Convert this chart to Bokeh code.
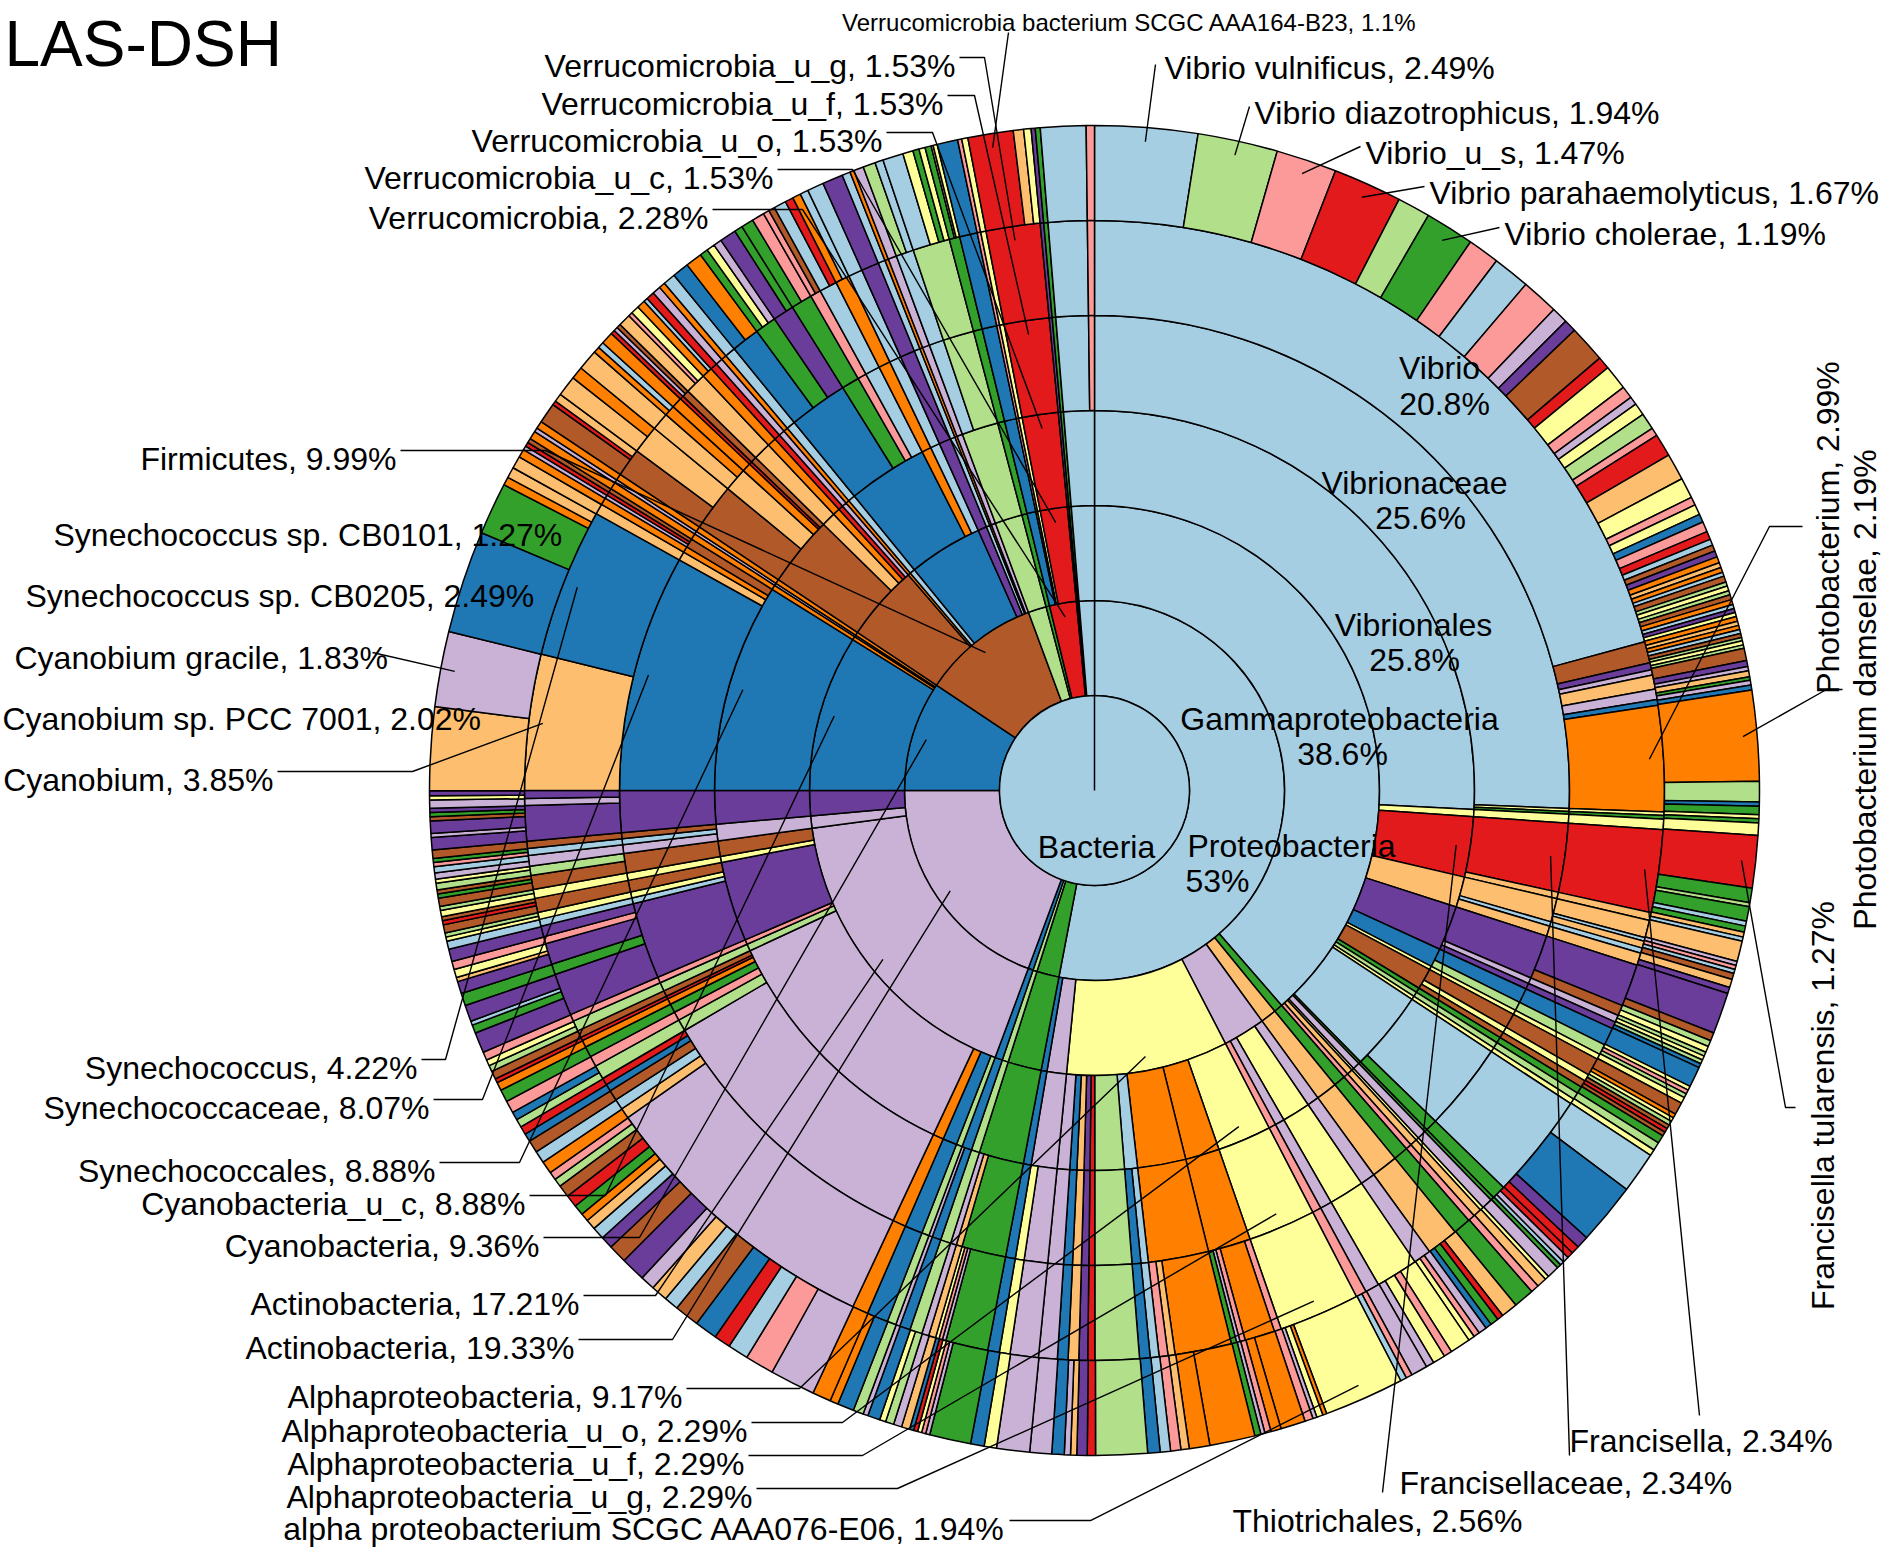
import math
from bokeh.plotting import figure
from bokeh.models import ColumnDataSource, Range1d
from bokeh.core.properties import value
from bokeh.embed import file_html
from bokeh.resources import INLINE

# ---------------- colour codes (ColorBrewer "Paired") ----------------
PALETTE = {"LB": "#a6cee3", "DB": "#1f78b4", "LG": "#b2df8a", "G": "#33a02c",
           "PK": "#fb9a99", "R": "#e31a1c", "LO": "#fdbf6f", "O": "#ff7f00",
           "LV": "#cab2d6", "PU": "#6a3d9a", "Y": "#ffff99", "BR": "#b15928"}

TITLE = "LAS-DSH"
ROOT = "Bacteria"

# ---------------- ring 1 : phylum (% of reads, clockwise from 12 o'clock) ----------------
R1_V = [53.0, 1.9, 0.35, 0.42, 19.33, 9.36, 9.99, 1.55, 0.3, 2.28, 0.1, 0.12, 1.3]
R1_C = "LB G LG DB LV DB BR LG G R PU G LB".split()

# ---------------- ring 2 : class ----------------
R2_V = [38.6, 0.5, 0.9, 2.4, 9.17, 1.1, 0.33,
        1.9, 0.35, 0.42,
        17.21, 0.7, 1.42,
        8.88, 0.2, 0.1, 0.18,
        4.3, 0.15, 0.3, 4.2, 0.5, 0.2, 0.1, 0.24,
        1.55, 0.3, 0.5, 0.1, 0.15, 1.53, 0.1, 0.12, 1.3]
R2_C = ("LB G LO LV Y LV DB  G LG DB  LV LV PU  DB O LV O  BR O LB DB PU LB O LV  "
        "LG G DB PK Y R PU G LB").split()

# ---------------- ring 3 : order ----------------
R3_V = ([25.8]
        + [0.3, 2.56, 1.3, 1.9, 0.8, 0.15, 0.9, 0.2, 0.2, 0.15, 3.4, 0.1, 0.3, 0.1, 0.24, 0.2]
        + [0.5, 0.9, 0.5, 1.2, 0.4, 0.3, 2.29, 1.45, 2.05, 0.55, 1.25, 0.2, 0.25, 0.3, 0.3, 0.53, 1.1, 0.33]
        + [1.9, 0.35, 0.42]
        + [0.25, 0.6, 0.45, 11.1, 0.3, 0.2, 3.4, 0.25, 0.66, 0.7, 1.42]
        + [8.88, 0.2, 0.1, 0.18]
        + [3.0, 0.6, 0.3, 0.2, 0.2, 0.15, 0.3, 3.4, 0.4, 0.4, 0.5, 0.2, 0.1, 0.24]
        + [1.55, 0.3, 0.5, 0.1, 0.15, 1.53, 0.1, 0.12, 1.3])
R3_C = ("LB "
        "Y R LO PU DB Y BR G LG Y LB G LV Y LO PK "
        "G LO LV Y LV PK Y O O LB LG R PU LO DB LV LV DB "
        "G LG DB "
        "LG DB O LV LG PK PU Y BR LV PU "
        "DB O LV O "
        "BR LO O R LV O LB DB O LB PU LB O LV "
        "LG G DB PK Y R PU G LB").split()

# ---------------- ring 4 : family ----------------
R4_V = ([25.6, 0.1, 0.1]
        + [0.3, 2.34, 0.22, 0.8, 0.15, 0.35, 1.5, 0.2, 0.2, 0.5, 0.3, 0.15, 0.5, 0.2, 0.2, 0.2, 0.2, 0.15,
           3.0, 0.4, 0.1, 0.3, 0.1, 0.24, 0.2]
        + [0.5, 0.9, 0.5, 1.2, 0.4, 0.3, 2.29, 1.45, 2.05, 0.25, 0.3, 1.25, 0.2, 0.25, 0.3, 0.3, 0.53, 0.8, 0.3, 0.33]
        + [1.5, 0.2, 0.2, 0.35, 0.3, 0.12]
        + [0.25, 0.6, 0.45, 9.6, 0.4, 0.3, 0.3, 0.2, 0.1, 0.2, 0.3, 0.2, 2.6, 0.2, 0.2, 0.4, 0.25, 0.66,
           0.3, 0.2, 0.2, 1.42]
        + [8.07, 0.3, 0.2, 0.31, 0.2, 0.1, 0.18]
        + [1.6, 0.8, 0.3, 0.1, 0.2, 0.6, 0.3, 0.2, 0.2, 0.15, 0.3, 2.0, 0.6, 0.3, 0.5, 0.4, 0.4, 0.5, 0.2, 0.1, 0.24]
        + [0.5, 1.05, 0.3, 0.5, 0.1, 0.15, 1.53, 0.1, 0.12, 1.1, 0.2])
R4_C = ("LB Y G "
        "Y R LO LO LB LO PU LV PU DB LG Y BR Y BR G LG Y LB G G LV Y LO PK "
        "G LO LV Y LV PK Y O O LB DB LG R PU LO DB LV LV Y DB "
        "G LO LV LG DB LV "
        "LG DB O LV LG PK G O R BR LG PK PU LB Y BR Y BR LV LB BR PU "
        "DB LO O BR O LV O "
        "BR LO O R BR LO O R LV O LB DB G PK LB O LB PU LB O LV "
        "LB LG G DB PK Y R PU G LB PK").split()

# ---------------- ring 5 : genus ----------------
R5_V = ([20.8]
        + [0.6, 0.2, 0.15, 0.4, 0.3, 0.16, 2.99]
        + [0.1, 0.1]
        + [0.3, 2.34, 0.22, 0.5, 0.1, 0.2, 0.15, 0.35, 1.2, 0.3, 0.2, 0.2, 0.5, 0.3, 0.15, 0.5, 0.2, 0.2,
           0.2, 0.2, 0.15, 3.0, 0.4, 0.1, 0.3, 0.1, 0.24, 0.2]
        + [0.5, 0.9, 0.5, 1.2, 0.4, 0.3, 2.29, 0.2, 0.85, 0.15, 0.1, 0.15, 1.6, 0.2, 0.25, 0.25, 0.3, 1.25,
           0.2, 0.25, 0.3, 0.3, 0.53, 0.8, 0.3, 0.33]
        + [1.2, 0.1, 0.1, 0.1, 0.2, 0.2, 0.35, 0.3, 0.12]
        + [0.25, 0.6, 0.45, 8.3, 0.3, 0.3, 0.3, 0.2, 0.2, 0.4, 0.3, 0.3, 0.2, 0.1, 0.2, 0.3, 0.2, 1.2, 0.3,
           0.6, 0.2, 0.3, 0.2, 0.2, 0.4, 0.25, 0.4, 0.26, 0.3, 0.2, 0.2, 1.0, 0.2, 0.22]
        + [3.85, 4.22, 0.3, 0.2, 0.1, 0.1, 0.11, 0.2, 0.1, 0.18]
        + [0.8, 0.8, 0.5, 0.3, 0.3, 0.1, 0.2, 0.6, 0.3, 0.2, 0.2, 0.15, 0.3, 0.8, 0.6, 0.6, 0.6, 0.3, 0.5,
           0.4, 0.4, 0.5, 0.2, 0.1, 0.24]
        + [0.5, 1.05, 0.3, 0.5, 0.1, 0.15, 1.53, 0.1, 0.12, 1.1, 0.2])
R5_C = ("LB "
        "BR PU LV LO LV DB O "
        "Y G "
        "Y R LO LO LB LO LB LO PU BR LV PU DB LG Y BR Y BR G LG Y LB G G LV Y LO PK "
        "G LO LV Y LV PK Y PK O PK LV G O LO PK LB DB LG R PU LO DB LV LV Y DB "
        "G LV PK Y LO LV LG DB LV "
        "LG DB O LV LO LB BR DB R LG PK G O R BR LG PK PU G PU PK PU LB Y BR Y BR LG LV LB BR PU LV PU "
        "LO DB LO O LV R BR O LV O "
        "BR LO LO O O R BR LO O R LV O LB DB G PU G PK LB O LB PU LB O LV "
        "LB LG G DB PK Y R PU G LB PK").split()

# ---------------- ring 6 : species ----------------
R6_V = ([2.49, 1.94, 1.47, 1.67, 0.8, 1.19, 0.77, 0.9, 0.9, 0.4, 0.3, 0.9, 0.3, 0.6, 0.3, 0.2, 0.3, 0.4,
         0.2, 0.55, 0.65, 0.5, 0.2, 0.25, 0.2, 0.25, 0.2, 0.15, 0.15, 0.15, 0.15, 0.12, 0.12, 0.1, 0.15,
         0.1, 0.12, 0.1, 0.12, 0.12, 0.1, 0.1, 0.1]
        + [0.12, 0.1, 0.1, 0.1, 0.1, 0.08, 0.1, 0.08, 0.3, 0.15, 0.1, 0.15, 0.08, 0.12, 0.12, 2.19, 0.5, 0.1, 0.2]
        + [0.1, 0.1]
        + [0.3, 1.27, 0.35, 0.1, 0.35, 0.12, 0.15, 0.12, 0.1, 0.5, 0.1, 0.1, 0.1, 0.15, 0.2, 0.15, 1.0, 0.2,
           0.15, 0.15, 0.1, 0.1, 0.1, 0.1, 0.5, 0.1, 0.1, 0.1, 0.15, 0.3, 0.1, 0.1, 0.1, 0.1, 0.1, 0.1, 0.2,
           0.2, 0.15, 1.0, 1.5, 0.3, 0.2, 0.15, 0.15, 0.1, 0.1, 0.3, 0.1, 0.24, 0.2]
        + [0.5, 0.4, 0.15, 0.2, 0.15, 0.2, 0.15, 0.15, 0.5, 0.2, 0.3, 0.2, 0.4, 0.15, 0.15, 1.94, 0.1, 0.15,
           0.1, 0.2, 0.6, 0.25, 0.15, 0.1, 0.15, 1.1, 0.5, 0.2, 0.25, 0.25, 0.3, 1.25, 0.2, 0.25, 0.15, 0.15,
           0.3, 0.53, 0.8, 0.3, 0.33]
        + [1.0, 0.1, 0.1, 0.1, 0.1, 0.1, 0.2, 0.2, 0.2, 0.15, 0.3, 0.12]
        + [0.25, 0.4, 0.2, 0.45,
           1.1, 0.7, 0.5, 0.4, 0.55, 0.6, 0.35, 0.4, 0.35, 0.6, 0.45, 0.3, 0.3, 0.25, 0.2, 0.25, 0.3, 0.3, 0.2, 0.2,
           0.3, 0.3, 0.3, 0.2, 0.2, 0.2, 0.2, 0.3, 0.3, 0.2, 0.1, 0.2, 0.15, 0.15, 0.2,
           0.5, 0.2, 0.1, 0.4, 0.3, 0.3, 0.1, 0.2, 0.2, 0.3, 0.2, 0.1, 0.1,
           0.2, 0.1, 0.1, 0.15, 0.1, 0.2, 0.1, 0.1, 0.16, 0.1, 0.15, 0.15, 0.1, 0.1, 0.2,
           0.3, 0.1, 0.3, 0.1, 0.1, 0.1, 0.2, 0.1, 0.12]
        + [2.02, 1.83, 2.49, 1.27, 0.2, 0.26, 0.3, 0.2, 0.1, 0.1, 0.11, 0.2, 0.1, 0.18]
        + [0.5, 0.1, 0.2, 0.5, 0.3, 0.5, 0.15, 0.15, 0.3, 0.1, 0.1, 0.1, 0.3, 0.1, 0.2, 0.2, 0.1, 0.2, 0.2,
           0.15, 0.3, 0.4, 0.4, 0.2, 0.2, 0.2, 0.4, 0.2, 0.3, 0.3, 0.15, 0.15, 0.3, 0.2, 0.2, 0.2, 0.4, 0.5,
           0.2, 0.1, 0.24]
        + [0.3, 0.2, 0.5, 0.25, 0.15, 0.15, 0.15, 0.05, 0.1, 0.5, 0.1, 0.15, 1.1, 0.25, 0.18, 0.1, 0.12, 1.1, 0.2])
R6_C = ("LB LG PK R LG G PK LB PK LV PU BR R Y PK LV Y LG PK R LO Y PK Y DB PK R LB BR PU O LO O LB BR "
        "LG Y LG BR O LB PU Y "
        "O LO O LB BR LG Y LG BR PU LV LO G LV DB O LG DB G "
        "Y G "
        "Y R G LG G LB G LO LB LO LV PK LB BR LO PU PU BR LG Y LG Y LG DB DB Y PK LG Y BR O Y LG BR R BR "
        "G LG Y LB DB PU R R LV LB G LV Y LO PK "
        "G LO R G DB LV PK Y Y PK Y LV LV PK LB Y O Y LV PK O O PK LV G O O LO PK LB DB LG R PU LO LV DB "
        "LV LV Y DB "
        "G LV PK Y R DB LO LV LG Y DB LV "
        "LG DB O O "
        "LV PK LB R DB BR LB LO LV PU BR PU LB LO O G R BR LG PK "
        "O LB BR DB R LG DB PK G O R BR LG Y PK "
        "PU G LB PU G PU LO Y PK PU LB Y LG "
        "BR R BR Y LG BR G BR LG Y LV LB PK G BR "
        "PU LV PU BR G PU LV Y PU "
        "LO LV DB G O LO LO O LV R BR O LV O "
        "BR R LO LO O LO O LB O R LV BR LO PK Y O LB R LV O LB DB O G Y LV PU G G PK PK BR LB R O LB "
        "LB PU LB O LV "
        "LG LB LB Y G Y G PK Y DB PK Y R LO Y PU G LB PK").split()

RINGS = [(R1_V, R1_C), (R2_V, R2_C), (R3_V, R3_C), (R4_V, R4_C), (R5_V, R5_C), (R6_V, R6_C)]

# ---------------- labelled taxa: name, value, ring, colour code ----------------
LAB_NAME = ["Verrucomicrobia bacterium SCGC AAA164-B23", "Verrucomicrobia_u_g", "Verrucomicrobia_u_f",
            "Verrucomicrobia_u_o", "Verrucomicrobia_u_c", "Verrucomicrobia",
            "Vibrio vulnificus", "Vibrio diazotrophicus", "Vibrio_u_s", "Vibrio parahaemolyticus",
            "Vibrio cholerae",
            "Photobacterium", "Photobacterium damselae", "Francisella tularensis",
            "Francisella", "Francisellaceae", "Thiotrichales",
            "alpha proteobacterium SCGC AAA076-E06", "Alphaproteobacteria_u_g", "Alphaproteobacteria_u_f",
            "Alphaproteobacteria_u_o", "Alphaproteobacteria",
            "Actinobacteria", "Actinobacteria", "Cyanobacteria", "Cyanobacteria_u_c", "Synechococcales",
            "Synechococcaceae", "Synechococcus",
            "Cyanobium", "Cyanobium sp. PCC 7001", "Cyanobium gracile", "Synechococcus sp. CB0205",
            "Synechococcus sp. CB0101", "Firmicutes"]
LAB_VAL = [1.1, 1.53, 1.53, 1.53, 1.53, 2.28,
           2.49, 1.94, 1.47, 1.67, 1.19,
           2.99, 2.19, 1.27,
           2.34, 2.34, 2.56,
           1.94, 2.29, 2.29, 2.29, 9.17,
           19.33, 17.21, 9.36, 8.88, 8.88, 8.07, 4.22,
           3.85, 2.02, 1.83, 2.49, 1.27, 9.99]
LAB_RING = [6, 5, 4, 3, 2, 1,
            6, 6, 6, 6, 6,
            5, 6, 6,
            5, 4, 3,
            6, 5, 4, 3, 2,
            1, 2, 1, 2, 3, 4, 5,
            5, 6, 6, 6, 6, 1]
LAB_COL = ["R", "R", "R", "R", "R", "R",
           "LB", "LG", "PK", "R", "G",
           "O", "O", "R",
           "R", "R", "R",
           "Y", "Y", "Y", "Y", "Y",
           "LV", "LV", "DB", "DB", "DB", "DB", "DB",
           "LO", "LO", "LV", "DB", "G", "BR"]

# ---------------- layout (reference pixel coordinates) ----------------
PAGE_H = 1567
W, H = 1886, 1551
CX, CY_REF = 1102, 798
STEP = 95
FONT = "Liberation Sans"
FSIZE = 32
TEXT_DROP = 8     # renderer draws the text block this far above its anchor

# text (cap centre) x, y, alignment, rotated?, leader start, leader elbow, font size
LAB_LAYOUT = [
    (1137, 22, "center", 0, (1016, 40), None, 24),
    (963, 65, "right", 0, (967, 65), (992, 65), FSIZE),
    (951, 103, "right", 0, (955, 103), (982, 103), FSIZE),
    (890, 140, "right", 0, (894, 140), (940, 140), FSIZE),
    (781, 177, "right", 0, (785, 177), (860, 177), FSIZE),
    (716, 217, "right", 0, (720, 217), (810, 217), FSIZE),
    (1172, 67, "left", 0, (1163, 72), None, FSIZE),
    (1262, 112, "left", 0, (1257, 114), None, FSIZE),
    (1373, 152, "left", 0, (1368, 154), None, FSIZE),
    (1437, 192, "left", 0, (1432, 194), None, FSIZE),
    (1512, 233, "left", 0, (1507, 235), None, FSIZE),
    (1827, 535, "center", 1, (1810, 534), (1777, 534), FSIZE),
    (1864, 697, "center", 1, (1850, 697), (1834, 697), FSIZE),
    (1822, 1113, "center", 1, (1803, 1115), (1793, 1115), FSIZE),
    (1577, 1440, "left", 0, (1707, 1423), None, FSIZE),
    (1407, 1482, "left", 0, (1577, 1463), None, FSIZE),
    (1240, 1520, "left", 0, (1390, 1500), None, FSIZE),
    (1013, 1528, "right", 0, (1017, 1528), (1098, 1528), FSIZE),
    (760, 1496, "right", 0, (764, 1496), (905, 1496), FSIZE),
    (752, 1463, "right", 0, (756, 1463), (870, 1463), FSIZE),
    (755, 1430, "right", 0, (759, 1430), (850, 1430), FSIZE),
    (690, 1396, "right", 0, (694, 1396), (807, 1396), FSIZE),
    (582, 1347, "right", 0, (586, 1347), (680, 1347), FSIZE),
    (587, 1303, "right", 0, (591, 1303), (663, 1303), FSIZE),
    (547, 1245, "right", 0, (551, 1245), (647, 1245), FSIZE),
    (533, 1203, "right", 0, (537, 1203), (613, 1203), FSIZE),
    (443, 1170, "right", 0, (447, 1170), (527, 1170), FSIZE),
    (437, 1107, "right", 0, (441, 1107), (490, 1107), FSIZE),
    (425, 1067, "right", 0, (429, 1067), (453, 1067), FSIZE),
    (281, 779, "right", 0, (285, 779), (420, 779), FSIZE),
    (10, 718, "left", 0, None, None, FSIZE),
    (22, 657, "left", 0, (380, 660), None, FSIZE),
    (33, 595, "left", 0, None, None, FSIZE),
    (61, 534, "left", 0, None, None, FSIZE),
    (404, 458, "right", 0, (408, 458), (553, 458), FSIZE),
]

INNER_LAYOUT = [  # (ring, wedge index or None, name x, y, value x, y)
    (0, None, 1104, 846, None, None),
    (1, 0, 1299, 845, 1225, 880),
    (2, 0, 1347, 718, 1350, 753),
    (3, 0, 1421, 624, 1422, 659),
    (4, 0, 1422, 482, 1428, 517),
    (5, 0, 1447, 367, 1452, 403),
]
INNER_NAMES = [ROOT, "Proteobacteria", "Gammaproteobacteria", "Vibrionales", "Vibrionaceae", "Vibrio"]

TITLE_POS = (12, 43)
TITLE_SIZE = 64


def Y(yref):
    return PAGE_H - yref


def fmt(v):
    return f"{v:g}"


p = figure(width=W, height=H, x_range=Range1d(8, 8 + W), y_range=Range1d(8, 8 + H),
           output_backend="svg", toolbar_location=None, min_border=0)
p.axis.visible = False
p.grid.visible = False
p.outline_line_color = None
p.background_fill_color = "white"
p.border_fill_color = "white"

CY = Y(CY_REF)

# ---------------- wedges ----------------
wx, wy, wir, wor, wsa, wea, wfill = [], [], [], [], [], [], []
for k, (vals, cols) in enumerate(RINGS, start=1):
    cols = list(cols) + ["LB"] * max(0, len(vals) - len(cols))
    tot = float(sum(vals))
    cum = 0.0
    for v, c in zip(vals, cols):
        f0 = cum / tot
        cum += v
        f1 = cum / tot
        wx.append(CX)
        wy.append(CY)
        wir.append(k * STEP)
        wor.append((k + 1) * STEP)
        wsa.append(math.pi / 2 - 2 * math.pi * f1)
        wea.append(math.pi / 2 - 2 * math.pi * f0)
        wfill.append(PALETTE[c])

src = ColumnDataSource(dict(x=wx, y=wy, ir=wir, orr=wor, sa=wsa, ea=wea, fill=wfill))
p.annular_wedge(x="x", y="y", inner_radius="ir", outer_radius="orr", start_angle="sa", end_angle="ea",
                fill_color="fill", line_color="black", line_width=1.5, source=src)

# centre (Bacteria, 100 %)
p.wedge(x=[CX], y=[CY], radius=STEP, start_angle=math.pi / 2 - 2 * math.pi + 1e-4,
        end_angle=math.pi / 2, fill_color=PALETTE["LB"], line_color="black", line_width=1.5)


def target(ring, val, col, frac=0.85):
    vals, cols = RINGS[ring - 1]
    tot = float(sum(vals))
    cum = 0.0
    fm = 0.0
    for v, c in zip(vals, cols):
        if abs(v - val) < 1e-9 and c == col:
            fm = (cum + v / 2.0) / tot
            break
        cum += v
    r = (ring + frac) * STEP
    return CX + r * math.sin(2 * math.pi * fm), CY_REF - r * math.cos(2 * math.pi * fm)


# ---------------- leader lines ----------------
lxs, lys = [], []
for i, (tx, ty, al, rot, start, elbow, fs) in enumerate(LAB_LAYOUT):
    if start is None:
        continue
    pts = [start]
    if elbow is not None:
        pts.append(elbow)
    pts.append(target(LAB_RING[i], LAB_VAL[i], LAB_COL[i]))
    lxs.append([q[0] for q in pts])
    lys.append([Y(q[1]) for q in pts])
p.multi_line(xs=lxs, ys=lys, line_color="black", line_width=1.4)

# ---------------- outer labels ----------------
groups = {}
for i, (tx, ty, al, rot, start, elbow, fs) in enumerate(LAB_LAYOUT):
    key = (al, rot, fs)
    g = groups.setdefault(key, dict(x=[], y=[], t=[]))
    if rot:
        g["x"].append(tx + TEXT_DROP)
        g["y"].append(Y(ty))
    else:
        g["x"].append(tx)
        g["y"].append(Y(ty + TEXT_DROP))
    g["t"].append(f"{LAB_NAME[i]}, {fmt(LAB_VAL[i])}%")
for (al, rot, fs), g in groups.items():
    p.text(x="x", y="y", text="t", source=ColumnDataSource(g), text_align=al, text_baseline="middle",
           angle=(math.pi / 2 if rot else 0.0), text_font=value(FONT), text_font_size=f"{fs}px",
           text_color="black")

# ---------------- in-wedge labels ----------------
ix, iy, it = [], [], []
for (ring, idx, tx, ty, vx, vy), name in zip(INNER_LAYOUT, INNER_NAMES):
    ix.append(tx)
    iy.append(Y(ty + TEXT_DROP))
    it.append(name)
    if idx is not None:
        ix.append(vx)
        iy.append(Y(vy + TEXT_DROP))
        it.append(fmt(RINGS[ring - 1][0][idx]) + "%")
p.text(x=ix, y=iy, text=it, text_align="center", text_baseline="middle",
       text_font=value(FONT), text_font_size=f"{FSIZE}px", text_color="black")

# ---------------- title ----------------
p.text(x=[TITLE_POS[0]], y=[Y(TITLE_POS[1] + TEXT_DROP)], text=[TITLE], text_align="left",
       text_baseline="middle", text_font=value(FONT), text_font_size=f"{TITLE_SIZE}px", text_color="black")

open("out.html", "w").write(file_html(p, INLINE))
